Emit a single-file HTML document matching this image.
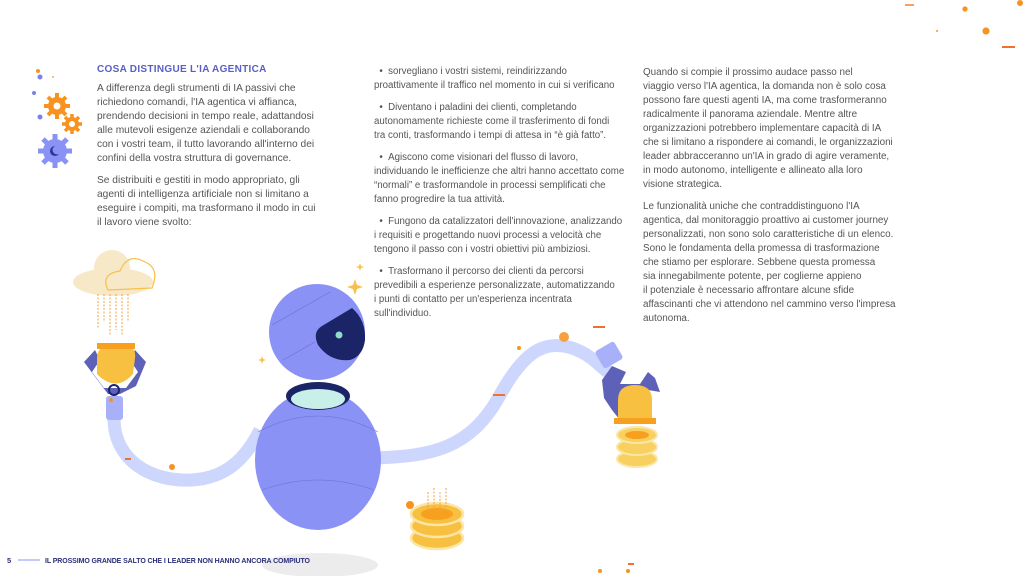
<!DOCTYPE html>
<html><head><meta charset="utf-8"><style>
html,body{margin:0;padding:0;background:#fff}
#p{position:relative;width:1024px;height:576px;overflow:hidden;font-family:"Liberation Sans",sans-serif;color:#555}
.t{position:absolute;line-height:14px;white-space:nowrap}
.t p{margin:0 0 8px 0}
h1{position:absolute;left:97px;top:64px;margin:0;font-size:10px;font-weight:bold;color:#5a5fc4;letter-spacing:.3px}
svg{position:absolute;left:0;top:0}
</style></head><body><div id="p">
<svg width="1024" height="576" viewBox="0 0 1024 576">
<rect x="905" y="4" width="9" height="2" fill="#f7a060"/>
<circle cx="965" cy="9" r="2.6" fill="#f7931e"/>
<circle cx="1020" cy="3" r="3" fill="#f7931e"/>
<circle cx="937" cy="31" r="1.2" fill="#f7b060"/>
<circle cx="986" cy="31" r="3.6" fill="#f7931e"/>
<rect x="1002" y="46" width="13" height="2" fill="#f07030"/>
<circle cx="38" cy="71" r="2" fill="#f7931e"/><circle cx="53" cy="77" r="1" fill="#f7b060"/>
<circle cx="40" cy="77" r="2.5" fill="#7b80f0"/><circle cx="34" cy="93" r="2" fill="#7b80f0"/><circle cx="40" cy="117" r="2.5" fill="#7b80f0"/>
<g fill="#f7931e"><circle cx="57" cy="106" r="9"/><g stroke="#f7931e" stroke-width="4"><line x1="57" y1="93" x2="57" y2="119"/><line x1="44" y1="106" x2="70" y2="106"/><line x1="48" y1="97" x2="66" y2="115"/><line x1="66" y1="97" x2="48" y2="115"/></g><circle cx="57" cy="106" r="3.5" fill="#fff"/></g>
<g fill="#f7931e"><circle cx="72" cy="124" r="7"/><g stroke="#f7931e" stroke-width="3.5"><line x1="72" y1="114" x2="72" y2="134"/><line x1="62" y1="124" x2="82" y2="124"/><line x1="65" y1="117" x2="79" y2="131"/><line x1="79" y1="117" x2="65" y2="131"/></g><circle cx="72" cy="124" r="3" fill="#fff"/></g>
<g fill="#8b92f5"><circle cx="55" cy="151" r="12"/><g stroke="#8b92f5" stroke-width="5"><line x1="55" y1="134" x2="55" y2="168"/><line x1="38" y1="151" x2="72" y2="151"/><line x1="43" y1="139" x2="67" y2="163"/><line x1="67" y1="139" x2="43" y2="163"/></g><circle cx="55" cy="151" r="5" fill="#2c3490"/><circle cx="57" cy="150" r="4.5" fill="#8b92f5"/></g>
<ellipse cx="320" cy="565" rx="58" ry="12" fill="#ececec"/>
<!-- tubes -->
<path d="M114,418 C114,460 150,482 192,480 C225,478 245,460 260,430" fill="none" stroke="#cdd6fc" stroke-width="13"/>
<path d="M375,458 C430,456 470,450 500,395 C525,350 545,340 572,348 C592,355 598,365 608,372" fill="none" stroke="#cdd6fc" stroke-width="13"/>
<!-- body -->
<ellipse cx="318" cy="460" rx="63" ry="70" fill="#8b92f5"/>
<path d="M258,432 Q318,400 378,432 M262,490 Q318,470 374,490" stroke="#6b70d0" stroke-width="0.6" fill="none"/>
<ellipse cx="318" cy="396" rx="32" ry="14" fill="#1a2466"/>
<ellipse cx="318" cy="399" rx="27" ry="10" fill="#c8efe8"/>
<!-- head -->
<circle cx="317" cy="332" r="48" fill="#8b92f5"/>
<path d="M352,308 Q366,320 365,340 Q363,356 350,360 Q330,362 318,345 Q312,332 322,326 Z" fill="#1a2466"/>
<circle cx="339" cy="335" r="3.5" fill="#8fdcc8"/>
<path d="M272,325 L330,292 M283,360 L315,342" stroke="#6b70d0" stroke-width="0.6"/>
<path d="M355,279 l2,6 6,2 -6,2 -2,6 -2,-6 -6,-2 6,-2z" fill="#f7c04a"/>
<path d="M360,263 l1,3 3,1 -3,1 -1,3 -1,-3 -3,-1 3,-1z" fill="#f7c04a"/>
<path d="M262,356 l1,3 3,1 -3,1 -1,3 -1,-3 -3,-1 3,-1z" fill="#f7c04a"/>
<!-- cloud -->
<ellipse cx="113" cy="282" rx="40" ry="14" fill="#f7e8c8"/>
<circle cx="112" cy="268" r="18" fill="#f7e8c8"/>
<path d="M108,290 Q100,274 120,271 Q128,252 145,262 Q160,268 152,288 Z" fill="none" stroke="#f7c04a" stroke-width="1.2"/>
<g stroke="#f7a040" stroke-width="1" stroke-dasharray="2,1.5"><line x1="98" y1="294" x2="98" y2="328"/><line x1="104" y1="294" x2="104" y2="322"/><line x1="110" y1="294" x2="110" y2="336"/><line x1="116" y1="294" x2="116" y2="330"/><line x1="122" y1="294" x2="122" y2="336"/><line x1="128" y1="294" x2="128" y2="322"/></g>
<!-- left claw -->
<path d="M84,362 L95,350 L100,360 L92,372 L104,388 L126,388 L138,372 L130,360 L135,350 L146,362 L136,386 L120,394 L108,394 Z" fill="#5d62b8"/>
<path d="M97,374 L97,358 Q97,344 117,344 Q137,344 135,358 L133,374 Q117,392 99,376Z" fill="#f7c040"/>
<rect x="97" y="343" width="38" height="6" fill="#f7a020"/>
<rect x="106" y="396" width="17" height="24" rx="3" fill="#a8b0fa"/>
<circle cx="114" cy="390" r="5" fill="none" stroke="#1a2466" stroke-width="2"/>
<!-- right claw -->
<rect x="598" y="345" width="22" height="20" rx="3" fill="#a8b0fa" transform="rotate(-30 609 355)"/>
<path d="M602,380 L612,366 L626,372 L620,384 L640,384 L648,372 L655,378 L660,392 L648,390 L620,420 L612,410 L604,398Z" fill="#5d62b8"/>
<path d="M618,422 L618,400 Q618,385 635,385 Q652,385 652,400 L652,422Z" fill="#f7c040"/>
<rect x="614" y="418" width="42" height="6" fill="#f7a020"/>
<g fill="#f7d060" stroke="#fbe6a8" stroke-width="2"><ellipse cx="637" cy="459" rx="20" ry="8"/><ellipse cx="637" cy="447" rx="20" ry="8"/><ellipse cx="637" cy="435" rx="20" ry="8"/></g>
<ellipse cx="637" cy="435" rx="12" ry="4" fill="#f7a020"/>
<!-- coin stack -->
<g fill="#f7c040" stroke="#fbe6a8" stroke-width="2.5"><ellipse cx="437" cy="538" rx="26" ry="11"/><ellipse cx="437" cy="526" rx="26" ry="11"/><ellipse cx="437" cy="514" rx="26" ry="11"/></g>
<ellipse cx="437" cy="514" rx="16" ry="6" fill="#f7a020"/>
<g stroke="#f7a040" stroke-width="1" stroke-dasharray="2,1.5"><line x1="428" y1="492" x2="428" y2="512"/><line x1="434" y1="488" x2="434" y2="512"/><line x1="440" y1="492" x2="440" y2="512"/><line x1="446" y1="488" x2="446" y2="512"/></g>
<circle cx="111" cy="400" r="2" fill="#f7931e"/><circle cx="172" cy="467" r="3" fill="#f7931e"/>
<circle cx="519" cy="348" r="2" fill="#f7931e"/><circle cx="564" cy="337" r="5" fill="#f7a040"/>
<circle cx="410" cy="505" r="4" fill="#f7931e"/>
<rect x="593" y="326" width="12" height="2" fill="#f07030"/><rect x="493" y="394" width="12" height="2" fill="#f07030"/>
<rect x="628" y="563" width="6" height="2" fill="#f07030"/><rect x="125" y="458" width="6" height="2" fill="#f07030"/>
<circle cx="600" cy="571" r="2" fill="#f7931e"/><circle cx="628" cy="571" r="2" fill="#f7931e"/>
<line x1="18" y1="560" x2="40" y2="560" stroke="#8b92f5" stroke-width="1"/>
<text x="7" y="563" font-size="7.5" font-weight="bold" fill="#2b2d7a" font-family="Liberation Sans">5</text>
<text x="45" y="563" font-size="7" font-weight="bold" fill="#2b2d7a" font-family="Liberation Sans" textLength="265">IL PROSSIMO GRANDE SALTO CHE I LEADER NON HANNO ANCORA COMPIUTO</text>
</svg>
<h1>COSA DISTINGUE L'IA AGENTICA</h1>
<div class="t" style="left:97px;top:82px;font-size:10.2px">
<p>A differenza degli strumenti di IA passivi che<br>richiedono comandi, l'IA agentica vi affianca,<br>prendendo decisioni in tempo reale, adattandosi<br>alle mutevoli esigenze aziendali e collaborando<br>con i vostri team, il tutto lavorando all'interno dei<br>confini della vostra struttura di governance.</p>
<p>Se distribuiti e gestiti in modo appropriato, gli<br>agenti di intelligenza artificiale non si limitano a<br>eseguire i compiti, ma trasformano il modo in cui<br>il lavoro viene svolto:</p>
</div>
<div class="t" style="left:374px;top:65px;font-size:9.7px">
<p>&nbsp; • &nbsp;sorvegliano i vostri sistemi, reindirizzando<br>proattivamente il traffico nel momento in cui si verificano</p>
<p>&nbsp; • &nbsp;Diventano i paladini dei clienti, completando<br>autonomamente richieste come il trasferimento di fondi<br>tra conti, trasformando i tempi di attesa in “è già fatto”.</p>
<p>&nbsp; • &nbsp;Agiscono come visionari del flusso di lavoro,<br>individuando le inefficienze che altri hanno accettato come<br>“normali” e trasformandole in processi semplificati che<br>fanno progredire la tua attività.</p>
<p>&nbsp; • &nbsp;Fungono da catalizzatori dell'innovazione, analizzando<br>i requisiti e progettando nuovi processi a velocità che<br>tengono il passo con i vostri obiettivi più ambiziosi.</p>
<p>&nbsp; • &nbsp;Trasformano il percorso dei clienti da percorsi<br>prevedibili a esperienze personalizzate, automatizzando<br>i punti di contatto per un'esperienza incentrata<br>sull'individuo.</p>
</div>
<div class="t" style="left:643px;top:66px;font-size:9.9px">
<p>Quando si compie il prossimo audace passo nel<br>viaggio verso l'IA agentica, la domanda non è solo cosa<br>possono fare questi agenti IA, ma come trasformeranno<br>radicalmente il panorama aziendale. Mentre altre<br>organizzazioni potrebbero implementare capacità di IA<br>che si limitano a rispondere ai comandi, le organizzazioni<br>leader abbracceranno un'IA in grado di agire veramente,<br>in modo autonomo, intelligente e allineato alla loro<br>visione strategica.</p>
<p>Le funzionalità uniche che contraddistinguono l'IA<br>agentica, dal monitoraggio proattivo ai customer journey<br>personalizzati, non sono solo caratteristiche di un elenco.<br>Sono le fondamenta della promessa di trasformazione<br>che stiamo per esplorare. Sebbene questa promessa<br>sia innegabilmente potente, per coglierne appieno<br>il potenziale è necessario affrontare alcune sfide<br>affascinanti che vi attendono nel cammino verso l'impresa<br>autonoma.</p>
</div>
</div></body></html>
